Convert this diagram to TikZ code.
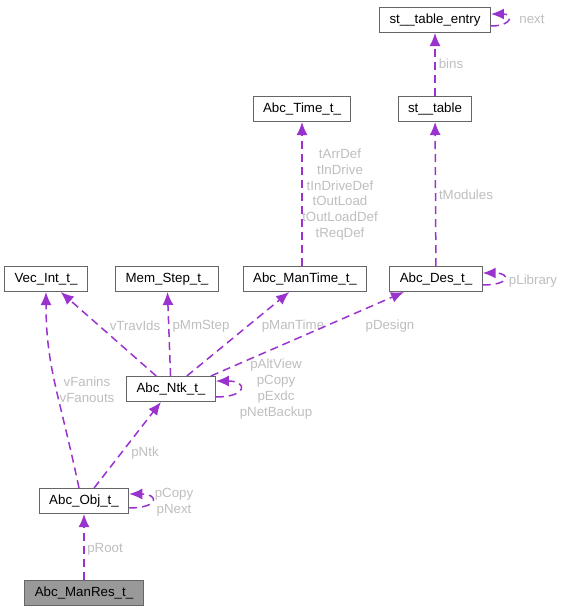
\documentclass[tikz,border=0pt]{standalone}
\usepackage{fontspec}
\setmainfont{Liberation Sans}
\usetikzlibrary{arrows.meta}
\definecolor{edgepurple}{HTML}{9A32CD}
\definecolor{boxgray}{HTML}{666666}
\definecolor{rootgray}{HTML}{999999}
\definecolor{lblgray}{HTML}{BEBEBE}

\begin{document}
\begin{tikzpicture}[
      x=1pt,y=-1pt,
      cls/.style={rectangle,draw=boxgray,fill=white,line width=1pt,minimum height=25pt,inner xsep=10pt,font=\fontsize{13.3}{16}\selectfont},
      clsroot/.style={cls,fill=rootgray},
      link/.style={draw=edgepurple,line width=1.5pt,dash pattern=on 8pt off 5pt,-{Latex[length=13pt,width=11pt]}},
      lbl/.style={text=lblgray,align=center,inner sep=0pt,font=\fontsize{13.3}{15.8}\selectfont}
    ]
    \useasboundingbox (0,0) rectangle (562,613);
    \node[cls] (entry) at (435,20) {st\_\_table\_entry};
    \node[cls] (table) at (435,109) {st\_\_table};
    \node[cls] (time) at (302,109) {Abc\_Time\_t\_};
    \node[cls] (vec) at (46,279) {Vec\_Int\_t\_};
    \node[cls] (mem) at (167,279) {Mem\_Step\_t\_};
    \node[cls] (mantime) at (305,279) {Abc\_ManTime\_t\_};
    \node[cls] (des) at (436,279) {Abc\_Des\_t\_};
    \node[cls] (ntk) at (171,389) {Abc\_Ntk\_t\_};
    \node[cls] (obj) at (84,501) {Abc\_Obj\_t\_};
    \node[clsroot] (manres) at (84,593) {Abc\_ManRes\_t\_};
    % edge labels
    \node[lbl] (lnext) at (532,19) {next};
    \node[lbl] (lbins) at (451,64) {bins};
    \node[lbl] (ltmod) at (466,195) {tModules};
    \node[lbl] (ltime) at (340,194.5) {tArrDef\\tInDrive\\tInDriveDef\\tOutLoad\\tOutLoadDef\\tReqDef};
    \node[lbl] (llib) at (533,281) {pLibrary};
    \node[lbl] (ltrav) at (135,326) {vTravIds};
    \node[lbl] (lmm) at (201,326) {pMmStep};
    \node[lbl] (lmt) at (293,326) {pManTime};
    \node[lbl] (ldes) at (390,326) {pDesign};
    \node[lbl] (lntk) at (276,389) {pAltView\\pCopy\\pExdc\\pNetBackup};
    \node[lbl] (lfan) at (87,389.5) {vFanins\\vFanouts};
    \node[lbl] (lpntk) at (145,453) {pNtk};
    \node[lbl] (lobj) at (174,502) {pCopy\\pNext};
    \node[lbl] (lroot) at (105,549) {pRoot};
    % connectors
    \draw[link] ([yshift=-6pt]entry.east) .. controls +(22,0) and +(22,0) .. ([yshift=6pt]entry.east);
    \draw[link] (table) -- (entry);
    \draw[link] (des) -- (table);
    \draw[link] (mantime.north -| time) -- (time);
    \draw[link] ([yshift=-6pt]des.east) .. controls +(28,0) and +(28,0) .. ([yshift=6pt]des.east);
    \draw[link] (ntk) -- (vec);
    \draw[link] (ntk) -- (mem);
    \draw[link] (ntk) -- (mantime);
    \draw[link] ([xshift=-5pt]ntk.north east) -- ([xshift=-32pt]des.south);
    \draw[link] ([yshift=-8pt]ntk.east) .. controls +(32,0) and +(32,0) .. ([yshift=8pt]ntk.east);
    \draw[link] ([xshift=-5pt]obj.north) .. controls +(-20,-95) and +(0,75) .. (vec.south);
    \draw[link] (obj) -- (ntk);
    \draw[link] ([yshift=-7pt]obj.east) .. controls +(30,0) and +(30,0) .. ([yshift=7pt]obj.east);
    \draw[link] (manres) -- (obj);
  \end{tikzpicture}
\end{document}
